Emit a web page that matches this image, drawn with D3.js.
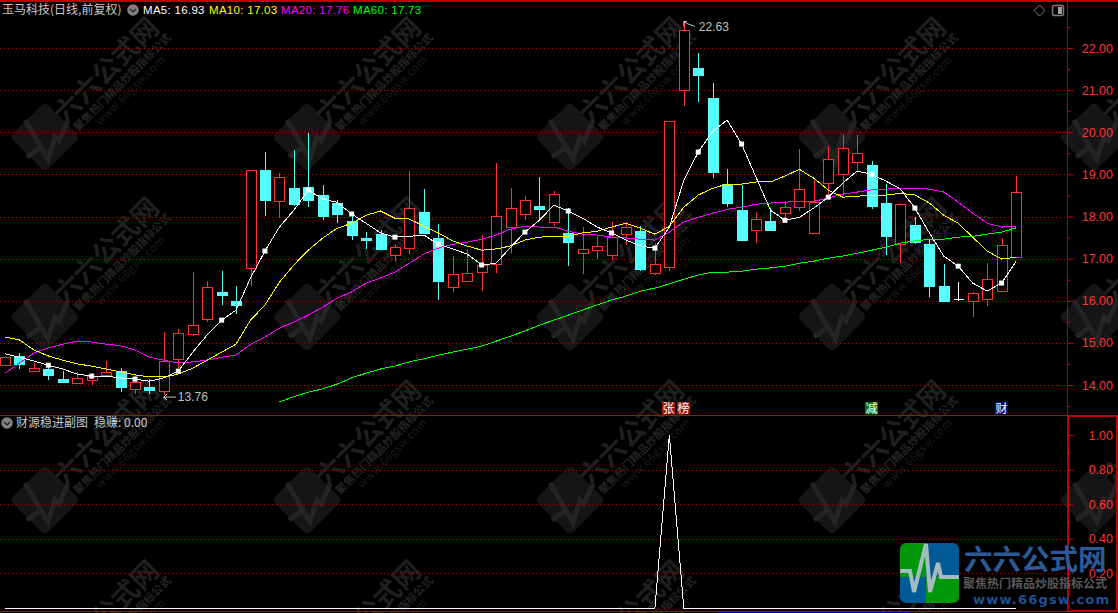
<!DOCTYPE html>
<html><head><meta charset="utf-8">
<script src="https://cdn.jsdelivr.net/npm/d3@7/dist/d3.min.js"></script>
<style>html,body{margin:0;padding:0;background:#000;overflow:hidden}svg{display:block}
text{font-family:"Liberation Sans","Noto Sans CJK SC",sans-serif}</style></head><body>
<svg id="c" width="1118" height="613"></svg>
<script>
const openP=[14.47,14.69,14.33,14.38,14.14,14.05,14.12,14.24,14.33,13.91,13.95,13.86,14.62,15.21,15.57,16.21,15.99,16.78,19.10,18.36,18.67,18.70,18.51,18.32,17.89,17.49,17.58,17.08,17.25,18.10,17.49,16.32,16.47,16.68,16.87,17.75,18.06,18.25,17.87,17.61,17.13,17.20,17.08,17.58,17.65,16.66,16.80,21.00,21.52,20.81,18.77,18.15,17.68,17.89,18.08,18.22,17.61,18.79,19.00,19.29,19.22,18.32,17.34,17.80,17.34,16.35,16.04,15.99,16.04,16.23,17.04];
const closeP=[14.66,14.50,14.40,14.24,14.07,14.17,14.21,14.31,13.95,14.07,13.88,14.57,15.23,15.42,16.32,16.13,15.90,19.10,18.39,18.93,18.29,18.39,18.01,18.06,17.56,17.44,17.23,17.27,18.20,17.61,16.47,16.63,16.66,16.85,18.01,18.20,18.39,18.17,18.53,17.39,17.23,17.30,17.51,17.75,16.75,16.87,20.26,22.42,21.35,19.05,18.32,17.44,17.94,17.68,18.22,18.65,18.34,19.36,19.62,19.50,18.25,17.53,18.29,17.39,16.35,15.99,16.04,16.18,16.51,17.32,18.58];
const highP=[14.66,14.76,14.52,14.47,14.33,14.31,14.28,14.57,14.40,14.26,14.14,15.26,15.33,16.68,16.47,16.70,16.35,19.10,19.53,19.03,19.57,19.98,18.74,18.39,18.08,17.63,17.68,17.34,19.08,18.65,17.82,17.06,17.23,17.56,19.27,18.67,18.48,18.93,18.60,18.20,17.75,17.53,17.87,17.87,17.77,17.37,20.26,22.63,21.88,21.16,19.12,18.74,18.10,18.20,18.36,19.60,18.89,19.67,19.95,19.93,19.31,18.77,18.32,17.98,17.44,16.87,16.44,16.21,16.89,17.49,18.96];
const lowP=[14.45,14.38,14.31,14.12,14.07,14.05,14.00,14.24,13.83,13.79,13.79,13.76,14.40,15.16,15.49,15.90,15.68,16.35,18.01,17.96,18.25,18.22,17.91,17.84,17.44,17.23,17.20,16.92,17.11,17.61,16.02,16.21,16.47,16.23,16.66,17.13,17.91,17.91,17.77,16.82,16.63,16.99,16.97,17.32,16.70,16.61,16.70,20.62,20.71,18.91,18.22,17.44,17.37,17.65,17.84,18.13,17.61,18.51,18.48,19.05,18.17,17.08,16.89,17.34,16.09,15.99,15.99,15.61,15.87,16.23,17.04];
const ma5=[14.74,14.66,14.57,14.47,14.38,14.26,14.21,14.21,14.17,14.14,14.09,14.17,14.33,14.78,15.19,15.54,15.78,16.54,17.18,17.75,18.15,18.63,18.41,18.34,18.06,17.84,17.61,17.51,17.53,17.56,17.34,17.23,17.11,16.85,16.89,17.27,17.63,17.91,18.27,18.13,17.96,17.75,17.61,17.44,17.30,17.25,17.75,18.86,19.53,20.02,20.29,19.72,18.93,18.15,17.91,17.98,18.20,18.46,18.79,19.08,19.00,18.84,18.65,18.20,17.61,17.06,16.82,16.42,16.23,16.42,16.93];
const ma10=[15.14,15.07,14.83,14.69,14.59,14.50,14.45,14.38,14.31,14.24,14.19,14.19,14.26,14.40,14.59,14.78,14.97,15.54,15.90,16.44,16.85,17.20,17.49,17.72,17.84,18.03,18.13,17.96,17.94,17.77,17.61,17.42,17.30,17.20,17.23,17.30,17.44,17.51,17.53,17.53,17.61,17.65,17.75,17.84,17.72,17.58,17.77,18.22,18.51,18.67,18.77,18.77,18.82,18.82,18.96,19.12,18.91,18.63,18.46,18.48,18.51,18.51,18.55,18.51,18.32,18.03,17.84,17.51,17.18,16.99,17.03];
const ma20=[14.28,14.52,14.76,14.88,14.97,15.04,15.02,14.97,14.93,14.83,14.66,14.59,14.52,14.55,14.59,14.66,14.71,14.97,15.14,15.35,15.49,15.66,15.85,16.06,16.21,16.42,16.54,16.68,16.89,17.11,17.25,17.34,17.39,17.46,17.56,17.70,17.77,17.75,17.75,17.65,17.58,17.56,17.51,17.49,17.46,17.44,17.63,17.87,17.98,18.08,18.17,18.22,18.29,18.32,18.34,18.36,18.36,18.44,18.53,18.58,18.63,18.65,18.67,18.67,18.65,18.58,18.34,18.08,17.84,17.75,17.76];
const ma60Start=19;
const ma60=[13.60,13.72,13.83,13.91,14.02,14.17,14.28,14.38,14.45,14.55,14.62,14.71,14.78,14.85,14.92,15.04,15.16,15.28,15.42,15.54,15.66,15.78,15.90,16.02,16.11,16.23,16.30,16.40,16.51,16.61,16.68,16.68,16.70,16.75,16.78,16.82,16.89,16.94,17.01,17.06,17.13,17.20,17.27,17.37,17.42,17.46,17.46,17.51,17.53,17.58,17.63,17.73];
const wen=[0,0,0,0,0,0,0,0,0,0,0,0,0,0,0,0,0,0,0,0,0,0,0,0,0,0,0,0,0,0,0,0,0,0,0,0,0,0,0,0,0,0,0,0,0,0,1,0,0,0,0,0,0,0,0,0,0,0,0,0,0,0,0,0,0,0,0,0,0,0,0];
const priceTicks=[14,15,16,17,18,19,20,21,22];
const priceMinor=[13.5,14.5,15.5,16.5,17.5,18.5,19.5,20.5,21.5,22.5];
const subTicks=[1,0.8,0.6,0.4,0.2];
const subMinor=[0.9,0.7,0.5,0.3,0.1];
const legend=[["MA5: 16.93","#fff"],["MA10: 17.03","#ff0"],["MA20: 17.76","#f0f"],["MA60: 17.73","#0f0"]];
const flags=[["张",46],["榜",47],["减",60],["财",69]];

const RED="#ff3232",CY="#54ffff",GRID="#b00000",AX="#c00000";
const svg=d3.select("#c");
const x=d3.scaleLinear().domain([0,70]).range([5,1016]);
const y=d3.scaleLinear().domain([14,22]).range([385,48]);
const ys=d3.scaleLinear().domain([0,1]).range([608,435]);
const idx=d3.range(openP.length);
const px=i=>Math.round(x(i))+0.5;

function wm(g){
  g.append("rect").attr("x",-25).attr("y",-25).attr("width",50).attr("height",50).attr("rx",5)
   .attr("transform","rotate(45)").attr("fill","#151515");
  g.append("path").attr("d","M-18,20 L-4,10 L-20,-17 L3,22 L10,0 L14,4 L23,-16").attr("fill","none").attr("stroke","#242424").attr("stroke-width",5);
  const t=(dx,dy,s,size,col,w,ls)=>g.append("text").attr("transform",`translate(${dx},${dy}) rotate(-45)`).attr("text-anchor","middle")
     .attr("font-size",size).attr("font-weight",w).attr("fill",col).attr("letter-spacing",ls).style("font-family",'"Noto Sans CJK SC"').text(s);
  t(68,-60,"六六公式网",27,"#1f1f1f",700,0);
  t(80,-52,"聚焦热门精品炒股指标公式",11,"#242424",700,0);
  t(88,-44,"www.66gsw.com",11,"#1c1c1c",400,0.5);
}
const wmG=svg.append("g");
[137,317,500,680].forEach(cy=>[45,307,570,832,1094].forEach(cx=>wm(wmG.append("g").attr("transform",`translate(${cx},${cy})`))));

const grid=(arr,sc)=>svg.append("g").selectAll("line").data(arr).join("line")
  .attr("x1",0).attr("x2",1067).attr("y1",d=>Math.round(sc(d))+0.5).attr("y2",d=>Math.round(sc(d))+0.5)
  .attr("stroke",GRID).attr("stroke-dasharray","1,3");
grid(priceTicks,y);grid(subTicks.slice(1),ys);

const fr=(a,b,c,d,col,w)=>svg.append("line").attr("x1",a).attr("y1",b).attr("x2",c).attr("y2",d).attr("stroke",col).attr("stroke-width",w||1);
fr(0,1,1118,1,AX,2);
fr(0,415.5,1067,415.5,AX);
fr(1067.5,0,1067.5,415,AX);
fr(0,611.5,1118,611.5,AX);
fr(717,612.5,910,612.5,"#0000a0");
svg.append("rect").attr("x",1068).attr("y",416).attr("width",49).attr("height",195).attr("fill","none").attr("stroke",AX).attr("stroke-width",2);

function axis(sc,major,minor){
  const g=svg.append("g").attr("transform","translate(1067.5,0)");
  const a=g.append("g").call(d3.axisRight(sc).tickValues(major).tickSize(6).tickFormat(d3.format(".2f")));
  a.select(".domain").remove();
  a.selectAll("line").attr("stroke",AX);
  a.selectAll("text").attr("fill",RED).attr("font-size",12.5).attr("text-anchor","end").attr("x",45.5);
  const b=g.append("g").call(d3.axisRight(sc).tickValues(minor).tickSize(3).tickFormat(""));
  b.select(".domain").remove();b.selectAll("line").attr("stroke",AX);
}
axis(y,priceTicks,priceMinor);
axis(ys,subTicks,subMinor);

const cg=svg.append("g").attr("shape-rendering","crispEdges");
idx.forEach(i=>{
  const o=openP[i],c=closeP[i],up=c>o,doji=c===o,col=doji?"#fff":(up?RED:CY);
  const X=px(i),t=Math.round(y(Math.max(o,c))),b=Math.round(y(Math.min(o,c)));
  cg.append("line").attr("x1",X).attr("x2",X).attr("y1",y(highP[i])).attr("y2",t).attr("stroke",col);
  cg.append("line").attr("x1",X).attr("x2",X).attr("y1",b).attr("y2",y(lowP[i])).attr("stroke",col);
  if(doji) cg.append("line").attr("x1",X-5).attr("x2",X+5).attr("y1",t+0.5).attr("y2",t+0.5).attr("stroke",col);
  else if(up) cg.append("rect").attr("x",X-5).attr("y",t+0.5).attr("width",10).attr("height",Math.max(b-t,1)).attr("fill","#000").attr("stroke",col).attr("stroke-width",1.2);
  else cg.append("rect").attr("x",X-5.5).attr("y",t).attr("width",11).attr("height",Math.max(b-t,1)+1).attr("fill",col);
});

const line=d3.line().x(d=>x(d[0])).y(d=>y(d[1]));
const draw=(vals,col,st)=>svg.append("path").datum(vals.map((v,i)=>[i+st,v])).attr("d",line).attr("fill","none").attr("stroke",col).attr("stroke-width",1).attr("shape-rendering","crispEdges");
draw(ma60,"#00ff00",ma60Start);
draw(ma20,"#ff00ff",0);
draw(ma10,"#ffff00",0);
draw(ma5,"#ffffff",0);
svg.append("g").selectAll("rect").data(idx.filter(i=>i%3===0&&i>0&&i<70)).join("rect")
  .attr("x",i=>x(i)-2.5).attr("y",i=>y(ma5[i])-2.5).attr("width",5).attr("height",5).attr("fill","#fff");

const subLine=d3.line().x((d,i)=>x(i)).y(d=>ys(d));
svg.append("path").datum(wen).attr("d",subLine).attr("fill","none").attr("stroke","#fff").attr("stroke-width",1).attr("shape-rendering","crispEdges");

const note=(i,v,dx,dy,s,path)=>{
  const X=x(i),Y=y(v);
  svg.append("path").attr("d",path.map((p,k)=>(k?"L":"M")+(X+p[0])+","+(Y+p[1])).join("")).attr("fill","none").attr("stroke","#c8c8c8");
  svg.append("text").attr("x",X+dx).attr("y",Y+dy).attr("fill","#c0c0c0").attr("font-size",12).text(s);
};
note(47,22.63,15,10,"22.63",[[0,5],[0,0],[3,0],[0,0],[3,2],[11,5]]);
note(11,13.76,14,6,"13.76",[[0,2],[3,-1],[0,2],[3,5],[0,2],[12,2]]);

const flagBg={"张":"#a01212","榜":"#a01212","减":"#007800","财":"#000e80"};
const fg=svg.append("g");
flags.forEach(([s,i])=>{
  const X=Math.round(x(i));
  fg.append("rect").attr("x",X-7).attr("y",402).attr("width",13).attr("height",12.5).attr("fill",flagBg[s]);
  fg.append("text").attr("x",X-0.5).attr("y",412.5).attr("text-anchor","middle").attr("fill","#fff").attr("font-size",12).style("font-family",'"Noto Sans CJK SC"').text(s);
});

const chev=(cx,cy)=>{
  svg.append("circle").attr("cx",cx).attr("cy",cy).attr("r",5.8).attr("fill","#808080");
  svg.append("path").attr("d",`M${cx-3},${cy-1} L${cx},${cy+2} L${cx+3},${cy-1}`).attr("fill","none").attr("stroke","#222").attr("stroke-width",1.2);
};
const cn=(xx,yy,s,col)=>svg.append("text").attr("x",xx).attr("y",yy).attr("fill",col).attr("font-size",12).style("font-family",'"Noto Sans CJK SC"').text(s);
cn(2,14,"玉马科技(日线,前复权)","#c8c8c8");
chev(133,10);
const lx=[143,209,281,353];
legend.forEach(([s,c],i)=>svg.append("text").attr("x",lx[i]).attr("y",14).attr("fill",c).attr("font-size",11.5).attr("letter-spacing",0.3).text(s));
chev(7,423);
cn(16,427,"财源稳进副图","#c8c8c8");
cn(94,427,"稳赚: 0.00","#c8c8c8");

svg.append("path").attr("d","M1039.5,5 L1045,10.5 L1039.5,16 L1034,10.5 Z").attr("fill","none").attr("stroke","#808080");
svg.append("rect").attr("x",1052.5).attr("y",5.5).attr("width",11).attr("height",10).attr("rx",2).attr("fill","none").attr("stroke","#808080").attr("stroke-width",1.4);
svg.append("rect").attr("x",1058).attr("y",7).attr("width",4).attr("height",7).attr("fill","#a0a0a0");

const logo=svg.append("g");
logo.append("clipPath").attr("id","lc").append("rect").attr("x",900).attr("y",543).attr("width",59).attr("height",60).attr("rx",6);
const q=logo.append("g").attr("clip-path","url(#lc)");
[[900,543,26,34,"#00980a"],[926,543,33,34,"#005a96"],[900,577,26,26,"#005a96"],[926,577,33,26,"#00980a"]].forEach(r=>
  q.append("rect").attr("x",r[0]).attr("y",r[1]).attr("width",r[2]).attr("height",r[3]).attr("fill",r[4]));
q.append("path").attr("d","M896,571 L910,571 L914,592 L926,544 L930,592 L938,563 L941,577 L962,577").attr("fill","none").attr("stroke","#a4bcc0").attr("stroke-width",4);
const lt=(xx,yy,s,sz,col,w,ls)=>logo.append("text").attr("x",xx).attr("y",yy).attr("font-size",sz).attr("font-weight",w).attr("fill",col).attr("letter-spacing",ls).text(s);
lt(964,570,"六六公式网",28.5,"#2c5a96",700,0).style("font-family",'"Noto Sans CJK SC"');
lt(963,588,"聚焦热门精品炒股指标公式",12,"#585858",700,0).style("font-family",'"Noto Sans CJK SC"');
lt(973,604,"www.66gsw.com",13,"#1f5094",700,1.2).style("font-family",'"DejaVu Sans"');
</script></body></html>
